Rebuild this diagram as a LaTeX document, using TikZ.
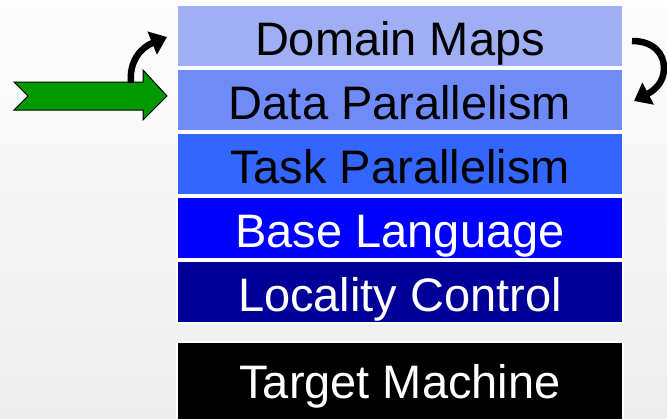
\documentclass[tikz,border=0pt]{standalone}
\usepackage{fontspec}
\setmainfont{Liberation Sans}
\usetikzlibrary{arrows.meta}
\definecolor{bgtop}{HTML}{FDFDFD}
\definecolor{bgbot}{HTML}{EDEDED}
\definecolor{cdm}{HTML}{A0AEF4}
\definecolor{cdp}{HTML}{6E8BF7}
\definecolor{ctp}{HTML}{3366FF}
\definecolor{cbl}{HTML}{0000FF}
\definecolor{clc}{HTML}{000099}
\definecolor{cgreen}{HTML}{009A00}
\tikzset{
  layer/.style={draw=white, line width=1.2pt, minimum width=446pt, minimum height=62pt,
    inner sep=0pt, text height=38pt, text depth=0pt, font=\fontsize{47}{50}\selectfont},
  curvearrow/.style={line width=6.5pt, -{Triangle[width=24pt,length=16pt]}}
}
\begin{document}
\begin{tikzpicture}[x=1pt,y=-1pt]
\useasboundingbox (0,0) rectangle (667,418);
\shade[top color=bgtop, bottom color=bgbot] (0,0) rectangle (667,418);
\begin{scope}
\clip (0,0) rectangle (667,418);
\node[layer, fill=cdm, text=black] (dm) at (400,36) {Domain Maps};
\node[layer, fill=cdp, text=black] (dp) at (400,100) {Data Parallelism};
\node[layer, fill=ctp, text=black] (tp) at (400,164) {Task Parallelism};
\node[layer, fill=cbl, text=white] (bl) at (400,228) {Base Language};
\node[layer, fill=clc, text=white] (lc) at (400,292) {Locality Control};
\node[layer, fill=black, text=white, minimum height=78pt, text height=34pt] (tm) at (400,381) {Target Machine};
\end{scope}
% green arrow
\draw[fill=cgreen, draw=black, line width=1pt] (14,82) -- (143,82) -- (143,70) -- (167,96) -- (143,120) -- (143,110) -- (14,110) -- (28,96) -- cycle;
\coordinate (la) at (131,83);
\coordinate (lb) at (167,37);
\draw[curvearrow] (la) .. controls (129,62) and (140,48) .. (lb);
\coordinate (ra) at (632,41);
\coordinate (rb) at (634,101);
\draw[curvearrow] (ra) .. controls (654,41) and (664,54) .. (664,68) .. controls (664,82) and (655,90) .. (rb);
\end{tikzpicture}
\end{document}
